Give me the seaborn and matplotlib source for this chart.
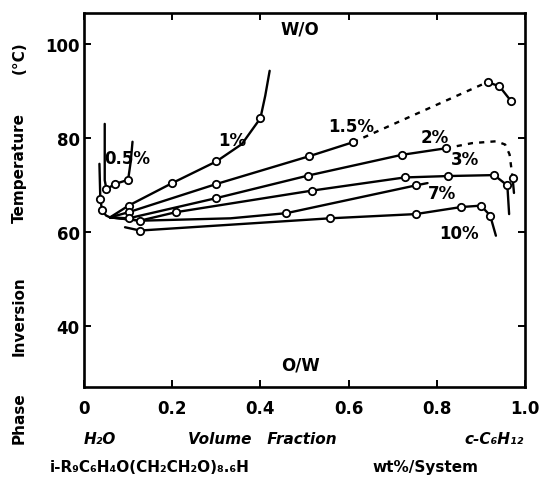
import matplotlib
matplotlib.use("Agg")
import matplotlib.pyplot as plt
import seaborn as sns
import pandas as pd

# ---------------- data ----------------
# 0.5 % curve
c05_x = [0.047, 0.047, 0.051, 0.070, 0.100, 0.106, 0.110]
c05_t = [83.0, 71.0, 69.1, 70.2, 71.1, 75.0, 79.2]
c05_mx = [0.051, 0.070, 0.100]
c05_mt = [69.1, 70.2, 71.1]

# common low-temperature trunk near pure water
trunk_x = [0.035, 0.037, 0.041, 0.050, 0.059]
trunk_t = [74.5, 67.0, 64.6, 63.5, 63.1]
trunk_mx = [0.037, 0.041]
trunk_mt = [67.0, 64.6]

# 1 %
c1_x = [0.059, 0.101, 0.200, 0.300, 0.358, 0.400, 0.411, 0.421]
c1_t = [63.1, 65.6, 70.4, 75.0, 78.7, 84.2, 89.0, 94.3]
c1_mx = [0.101, 0.200, 0.300, 0.400]
c1_mt = [65.6, 70.4, 75.0, 84.2]

# 1.5 %
c15_x = [0.059, 0.101, 0.300, 0.510, 0.610]
c15_t = [63.1, 64.2, 70.2, 76.1, 79.1]
c15_dx = [0.610, 0.915]
c15_dt = [79.1, 91.9]
c15_tx = [0.915, 0.942, 0.968]
c15_tt = [91.9, 91.0, 87.9]
c15_mx = [0.101, 0.300, 0.510, 0.610, 0.915, 0.942, 0.968]
c15_mt = [64.2, 70.2, 76.1, 79.1, 91.9, 91.0, 87.9]

# 2 %
c2_x = [0.059, 0.101, 0.300, 0.508, 0.720, 0.820]
c2_t = [63.1, 62.9, 67.2, 72.0, 76.4, 77.8]
c2_dx = [0.820, 0.880, 0.935, 0.955, 0.965, 0.972]
c2_dt = [77.8, 78.9, 79.3, 78.6, 76.5, 71.4]
c2_tx = [0.972, 0.975]
c2_tt = [71.4, 68.3]
c2_mx = [0.101, 0.300, 0.508, 0.720, 0.820, 0.972]
c2_mt = [62.9, 67.2, 72.0, 76.4, 77.8, 71.4]

# 3 %
c3_x = [0.059, 0.127, 0.208, 0.517, 0.727, 0.826, 0.930, 0.960, 0.964]
c3_t = [63.1, 62.4, 64.2, 68.8, 71.6, 71.9, 72.1, 69.9, 63.8]
c3_mx = [0.127, 0.208, 0.517, 0.727, 0.826, 0.930, 0.960]
c3_mt = [62.4, 64.2, 68.8, 71.6, 71.9, 72.1, 69.9]

# 7 %
c7_x = [0.059, 0.130, 0.332, 0.459, 0.752, 0.779]
c7_t = [63.1, 62.4, 62.9, 64.0, 69.9, 70.4]
c7_mx = [0.459, 0.752]
c7_mt = [64.0, 69.9]

# 10 %
c10_x = [0.093, 0.127, 0.557, 0.752, 0.855, 0.900, 0.921, 0.934]
c10_t = [61.0, 60.3, 62.9, 63.8, 65.3, 65.6, 63.5, 59.2]
c10_mx = [0.127, 0.557, 0.752, 0.855, 0.900, 0.921]
c10_mt = [60.3, 62.9, 63.8, 65.3, 65.6, 63.5]

# curve labels
lab_text = ["0.5%", "1%", "1.5%", "2%", "3%", "7%", "10%"]
lab_x = [0.098, 0.337, 0.605, 0.795, 0.864, 0.811, 0.850]
lab_t = [75.7, 79.5, 82.6, 80.3, 75.5, 68.3, 59.8]

x_ticks = [0.0, 0.2, 0.4, 0.6, 0.8, 1.0]
x_tick_labels = ["0", "0.2", "0.4", "0.6", "0.8", "1.0"]
y_ticks = [40, 60, 80, 100]

# ---------------- figure ----------------
sns.set_theme(style="ticks")
plt.rcParams["font.family"] = ["DejaVu Sans"]
plt.rcParams["text.color"] = "black"

W, H = 541, 485
fig = plt.figure(figsize=(W / 100, H / 100), dpi=100)
fig.patch.set_facecolor("white")
ax = fig.add_axes([84 / W, 1 - 388 / H, (525 - 84) / W, (388 - 14) / H])
ax.set_facecolor("white")

LW = 1.7
solid = [(c05_x, c05_t), (trunk_x, trunk_t), (c1_x, c1_t), (c15_x, c15_t),
         (c15_tx, c15_tt), (c2_x, c2_t), (c2_tx, c2_tt), (c3_x, c3_t),
         (c7_x, c7_t), (c10_x, c10_t)]
for xs, ts in solid:
    df = pd.DataFrame({"x": xs, "t": ts})
    sns.lineplot(data=df, x="x", y="t", sort=False, estimator=None,
                 color="black", lw=LW, ax=ax)

dashed = [(c15_dx, c15_dt), (c2_dx, c2_dt)]
for xs, ts in dashed:
    df = pd.DataFrame({"x": xs, "t": ts})
    sns.lineplot(data=df, x="x", y="t", sort=False, estimator=None,
                 color="black", lw=LW, linestyle=(0, (2.2, 2.6)), ax=ax)

mx = c05_mx + trunk_mx + c1_mx + c15_mx + c2_mx + c3_mx + c7_mx + c10_mx
mt = c05_mt + trunk_mt + c1_mt + c15_mt + c2_mt + c3_mt + c7_mt + c10_mt
sns.scatterplot(x=mx, y=mt, marker="o", s=28, facecolor="white",
                edgecolor="black", linewidth=1.3, zorder=5, ax=ax)

BOLD = "bold"
for txt, lx, lt in zip(lab_text, lab_x, lab_t):
    ax.text(lx, lt, txt, ha="center", va="center", fontsize=12,
            fontweight=BOLD, color="black")

ax.text(0.49, 103.2, "W/O", ha="center", va="center", fontsize=12,
        fontweight=BOLD, color="black")
ax.text(0.49, 31.7, "O/W", ha="center", va="center", fontsize=12,
        fontweight=BOLD, color="black")

ax.set_xlim(0, 1.0)
ax.set_ylim(27.0, 106.6)
ax.set_xticks(x_ticks)
ax.set_xticklabels(x_tick_labels)
ax.set_yticks(y_ticks)
ax.set_xlabel("")
ax.set_ylabel("")
ax.tick_params(axis="both", direction="in", top=True, right=True,
               length=5, width=1.4, colors="black", labelsize=12)
ax.tick_params(axis="x", pad=9)
ax.tick_params(axis="y", pad=3)
for lbl in ax.get_xticklabels() + ax.get_yticklabels():
    lbl.set_fontweight(BOLD)
for sp in ax.spines.values():
    sp.set_visible(True)
    sp.set_linewidth(1.9)
    sp.set_color("black")

# y-axis title, spread over the height as in the original
for word, yc in [("Phase", 418), ("Inversion", 316), ("Temperature", 168), ("(°C)", 58)]:
    fig.text(19 / W, 1 - yc / H, word, rotation=90, ha="center", va="center",
             fontsize=11, fontweight=BOLD, color="black")

# x-axis captions
fig.text(100 / W, 1 - 440 / H, "H₂O", ha="center", va="center", fontsize=11,
         style="italic", fontweight=BOLD, color="black")
fig.text(262 / W, 1 - 440 / H, "Volume   Fraction", ha="center", va="center",
         fontsize=11, style="italic", fontweight=BOLD, color="black")
fig.text(494 / W, 1 - 440 / H, "c-C₆H₁₂", ha="center", va="center", fontsize=11,
         style="italic", fontweight=BOLD, color="black")
fig.text(150 / W, 1 - 468 / H, "i-R₉C₆H₄O(CH₂CH₂O)₈.₆H", ha="center", va="center",
         fontsize=11, fontweight=BOLD, color="black")
fig.text(425 / W, 1 - 468 / H, "wt%/System", ha="center", va="center",
         fontsize=11, fontweight=BOLD, color="black")

fig.savefig("out.png", dpi=100, facecolor="white")
